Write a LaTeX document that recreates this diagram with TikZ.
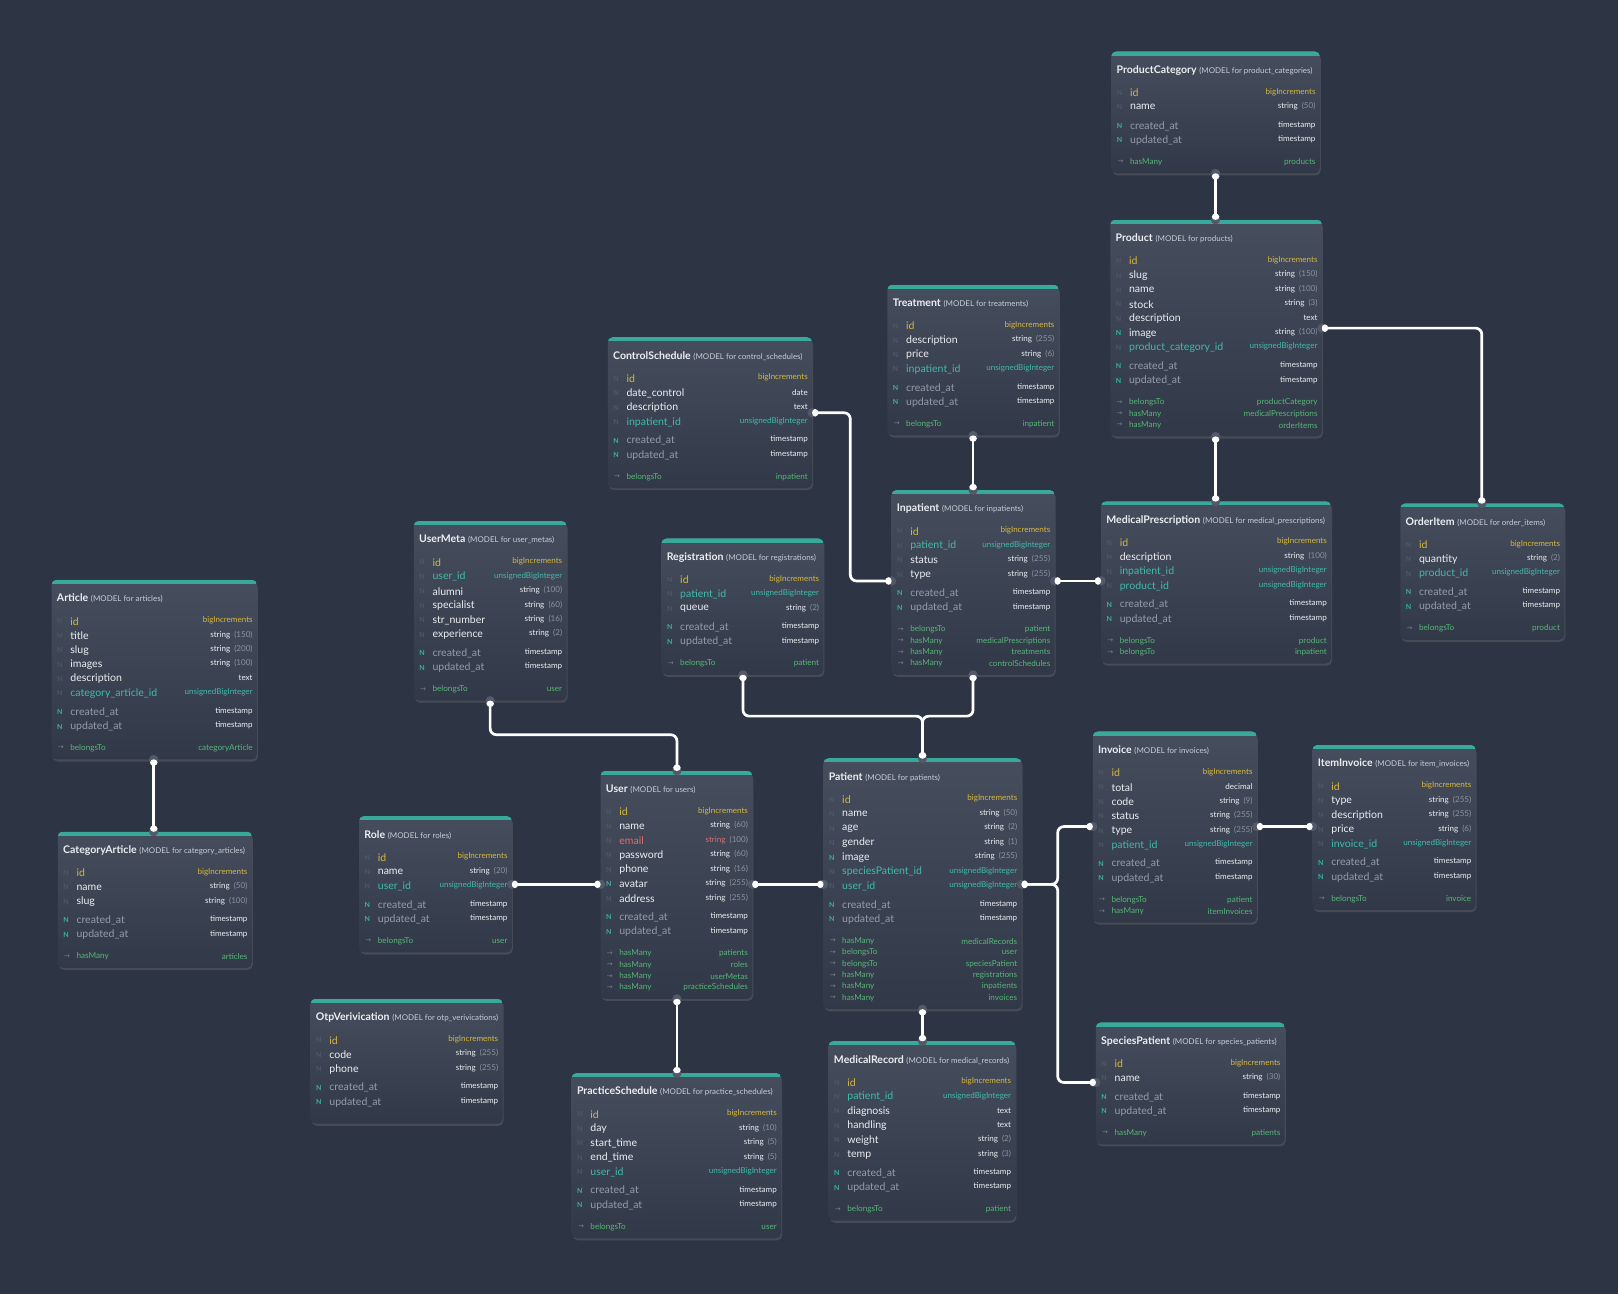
\documentclass[tikz,border=0pt]{standalone}
\usepackage{fontspec}
\setmainfont{Lato}
\newfontfamily\symfont{DejaVu Sans}
\usetikzlibrary{arrows.meta,shadows}

\definecolor{canvas}{RGB}{45,53,68}
\definecolor{boxtop}{RGB}{70,78,94}
\definecolor{boxbot}{RGB}{49,56,71}
\definecolor{barteal}{RGB}{56,170,156}
\definecolor{idyellow}{RGB}{214,184,60}
\definecolor{fkteal}{RGB}{64,186,170}
\definecolor{nteal}{RGB}{54,178,160}
\definecolor{ndim}{RGB}{80,88,104}
\definecolor{plain}{RGB}{236,238,242}
\definecolor{stampgray}{RGB}{150,156,168}
\definecolor{sizegray}{RGB}{140,146,158}
\definecolor{modelgray}{RGB}{200,205,214}
\definecolor{mailred}{RGB}{222,108,112}
\definecolor{relgreen}{RGB}{86,182,118}
\definecolor{arrowgray}{RGB}{120,126,138}
\definecolor{handlegray}{RGB}{82,90,106}

% field kinds: mark / name / type colours
\colorlet{pkmark}{ndim}\colorlet{pkname}{idyellow}\colorlet{pktype}{idyellow}
\colorlet{fkmark}{ndim}\colorlet{fkname}{fkteal}\colorlet{fktype}{fkteal}
\colorlet{fmark}{ndim}\colorlet{fname}{plain}\colorlet{ftype}{plain}
\colorlet{nfmark}{nteal}\colorlet{nfname}{plain}\colorlet{nftype}{plain}
\colorlet{tsmark}{nteal}\colorlet{tsname}{stampgray}\colorlet{tstype}{plain}
\colorlet{emmark}{ndim}\colorlet{emname}{mailred}\colorlet{emtype}{mailred}

\tikzset{
  tablebox/.style={rectangle, inner sep=0pt, rounded corners=5pt,
    top color=boxtop, bottom color=boxbot, draw=none,
    drop shadow={opacity=0.3, shadow xshift=1pt, shadow yshift=-2pt}},
  ttitle/.style={anchor=west, inner sep=0pt, text=plain, font=\fontsize{10.2}{12}\selectfont},
  nmark/.style={inner sep=0pt, font=\fontsize{6.8}{7}\selectfont\bfseries},
  fieldname/.style={anchor=west, inner sep=0pt, font=\fontsize{10.2}{12}\selectfont},
  fieldtype/.style={anchor=east, inner sep=0pt, font=\fontsize{7.8}{9}\selectfont},
  rarrow/.style={inner sep=0pt, text=arrowgray, font=\fontsize{6.8}{7}\symfont},
  rname/.style={anchor=west, inner sep=0pt, text=relgreen, font=\fontsize{7.9}{9}\selectfont},
  rtarget/.style={anchor=east, inner sep=0pt, text=relgreen, font=\fontsize{7.9}{9}\selectfont},
  handle/.style={circle, fill=handlegray, inner sep=0pt, minimum size=9pt},
  link/.style={draw=white, line width=2.6pt, rounded corners=6pt,
    arrows={Circle[length=6pt,width=7pt]-Circle[length=6pt,width=7pt]}},
}

\newcommand{\sz}[1]{ \textcolor{sizegray}{(#1)}}

% #1 name, #2 left, #3 top, #4 right, #5 bottom, #6 model, #7 table
\newcommand{\erbox}[7]{%
  \pgfmathsetmacro\tblw{#4-#2}%
  \pgfmathsetmacro\tblh{#5-#3}%
  \node[tablebox, minimum width=\tblw pt, minimum height=\tblh pt] (#1) at ({(#2+#4)/2},{(#3+#5)/2}) {};
  \begin{scope}
    \clip[rounded corners=5pt] (#1.north west) rectangle (#1.south east);
    \fill[barteal] (#1.north west) rectangle ([yshift=-4pt]#1.north east);
  \end{scope}
  \node[ttitle] (#1-title) at (#2+5,#3+18) {\textbf{#6} {\fontsize{7.7}{9}\selectfont\color{modelgray}(MODEL for #7)}};
}
% #1 name, #2 left, #3 right, #4 y, #5 kind, #6 field, #7 type
\newcommand{\erfield}[7]{%
  \node[nmark, text=#5mark] (#1-m) at (#2+8,#4+1) {N};
  \node[fieldname, text=#5name] (#1-n) at (#2+18,#4+1) {#6};
  \node[fieldtype, text=#5type] (#1-t) at (#3-4,#4) {#7};
}
\newcommand{\erstamps}[4]{%
  \erfield{#1-c}{#2}{#3}{#4}{ts}{created\_at}{timestamp}
  \erfield{#1-u}{#2}{#3}{#4+14}{ts}{updated\_at}{timestamp}
}
% #1 name, #2 left, #3 right, #4 y, #5 relation, #6 target
\newcommand{\errel}[6]{%
  \node[rarrow] (#1-a) at (#2+9,#4+1) {→};
  \node[rname] (#1-k) at (#2+18,#4+1) {#5};
  \node[rtarget] (#1-g) at (#3-4,#4+1) {#6};
}

\begin{document}
\begin{tikzpicture}[x=1pt, y=-1pt]
  \fill[canvas] (0,0) rectangle (1568,1254);
  \useasboundingbox (0,0) rectangle (1568,1254);

  % product category
  \erbox{pc}{1077}{50}{1279}{168}{ProductCategory}{product\_categories}
  \foreach \kd/\fn/\ft [count=\i from 0] in {pk/id/bigIncrements, f/name/string \sz{50}}
    {\erfield{pc-\i}{1077}{1279}{89+14*\i}{\kd}{\fn}{\ft}}
  \erstamps{pc}{1077}{1279}{121}
  \foreach \rk/\rt [count=\i from 0] in {hasMany/products}
    {\errel{pc-r\i}{1077}{1279}{156+11*\i}{\rk}{\rt}}

  % product
  \erbox{prod}{1076}{213}{1281}{423}{Product}{products}
  \foreach \kd/\fn/\ft [count=\i from 0] in {pk/id/bigIncrements, f/slug/string \sz{150},
      f/name/string \sz{100}, f/stock/string \sz{3}, f/description/text, nf/image/string \sz{100},
      fk/product\_category\_id/unsignedBigInteger}
    {\erfield{prod-\i}{1076}{1281}{252+14*\i}{\kd}{\fn}{\ft}}
  \erstamps{prod}{1076}{1281}{354}
  \foreach \rk/\rt [count=\i from 0] in {belongsTo/productCategory, hasMany/medicalPrescriptions, hasMany/orderItems}
    {\errel{prod-r\i}{1076}{1281}{389+11*\i}{\rk}{\rt}}

  % treatment
  \erbox{trt}{860}{276}{1026}{422}{Treatment}{treatments}
  \foreach \kd/\fn/\ft [count=\i from 0] in {pk/id/bigIncrements, f/description/string \sz{255},
      f/price/string \sz{6}, fk/inpatient\_id/unsignedBigInteger}
    {\erfield{trt-\i}{860}{1026}{315+14*\i}{\kd}{\fn}{\ft}}
  \erstamps{trt}{860}{1026}{375}
  \foreach \rk/\rt [count=\i from 0] in {belongsTo/inpatient}
    {\errel{trt-r\i}{860}{1026}{410+11*\i}{\rk}{\rt}}

  % control schedule
  \erbox{cs}{589}{327}{787}{473}{ControlSchedule}{control\_schedules}
  \foreach \kd/\fn/\ft [count=\i from 0] in {pk/id/bigIncrements, f/date\_control/date,
      f/description/text, fk/inpatient\_id/unsignedBigInteger}
    {\erfield{cs-\i}{589}{787}{366+14*\i}{\kd}{\fn}{\ft}}
  \erstamps{cs}{589}{787}{426}
  \foreach \rk/\rt [count=\i from 0] in {belongsTo/inpatient}
    {\errel{cs-r\i}{589}{787}{461+11*\i}{\rk}{\rt}}

  % inpatient
  \erbox{inp}{864}{475}{1022}{654}{Inpatient}{inpatients}
  \foreach \kd/\fn/\ft [count=\i from 0] in {pk/id/bigIncrements, fk/patient\_id/unsignedBigInteger,
      f/status/string \sz{255}, f/type/string \sz{255}}
    {\erfield{inp-\i}{864}{1022}{514+14*\i}{\kd}{\fn}{\ft}}
  \erstamps{inp}{864}{1022}{574}
  \foreach \rk/\rt [count=\i from 0] in {belongsTo/patient, hasMany/medicalPrescriptions,
      hasMany/treatments, hasMany/controlSchedules}
    {\errel{inp-r\i}{864}{1022}{609+11*\i}{\rk}{\rt}}

  % medical prescription
  \erbox{mp}{1067}{486}{1290}{643}{MedicalPrescription}{medical\_prescriptions}
  \foreach \kd/\fn/\ft [count=\i from 0] in {pk/id/bigIncrements, f/description/string \sz{100},
      fk/inpatient\_id/unsignedBigInteger, fk/product\_id/unsignedBigInteger}
    {\erfield{mp-\i}{1067}{1290}{525+14*\i}{\kd}{\fn}{\ft}}
  \erstamps{mp}{1067}{1290}{585}
  \foreach \rk/\rt [count=\i from 0] in {belongsTo/product, belongsTo/inpatient}
    {\errel{mp-r\i}{1067}{1290}{620+11*\i}{\rk}{\rt}}

  % order item
  \erbox{oi}{1357}{488}{1516}{620}{OrderItem}{order\_items}
  \foreach \kd/\fn/\ft [count=\i from 0] in {pk/id/bigIncrements, f/quantity/string \sz{2},
      fk/product\_id/unsignedBigInteger}
    {\erfield{oi-\i}{1357}{1516}{527+14*\i}{\kd}{\fn}{\ft}}
  \erstamps{oi}{1357}{1516}{573}
  \foreach \rk/\rt [count=\i from 0] in {belongsTo/product}
    {\errel{oi-r\i}{1357}{1516}{608+11*\i}{\rk}{\rt}}

  % article
  \erbox{art}{50}{562}{249}{736}{Article}{articles}
  \foreach \kd/\fn/\ft [count=\i from 0] in {pk/id/bigIncrements, f/title/string \sz{150},
      f/slug/string \sz{200}, f/images/string \sz{100}, f/description/text,
      fk/category\_article\_id/unsignedBigInteger}
    {\erfield{art-\i}{50}{249}{601+14*\i}{\kd}{\fn}{\ft}}
  \erstamps{art}{50}{249}{689}
  \foreach \rk/\rt [count=\i from 0] in {belongsTo/categoryArticle}
    {\errel{art-r\i}{50}{249}{724+11*\i}{\rk}{\rt}}

  % category article
  \erbox{ca}{56}{806}{244}{938}{CategoryArticle}{category\_articles}
  \foreach \kd/\fn/\ft [count=\i from 0] in {pk/id/bigIncrements, f/name/string \sz{50},
      f/slug/string \sz{100}}
    {\erfield{ca-\i}{56}{244}{845+14*\i}{\kd}{\fn}{\ft}}
  \erstamps{ca}{56}{244}{891}
  \foreach \rk/\rt [count=\i from 0] in {hasMany/articles}
    {\errel{ca-r\i}{56}{244}{926+11*\i}{\rk}{\rt}}

  % user meta
  \erbox{um}{401}{505}{549}{679}{UserMeta}{user\_metas}
  \foreach \kd/\fn/\ft [count=\i from 0] in {pk/id/bigIncrements, fk/user\_id/unsignedBigInteger,
      f/alumni/string \sz{100}, f/specialist/string \sz{60}, f/str\_number/string \sz{16},
      f/experience/string \sz{2}}
    {\erfield{um-\i}{401}{549}{544+14*\i}{\kd}{\fn}{\ft}}
  \erstamps{um}{401}{549}{632}
  \foreach \rk/\rt [count=\i from 0] in {belongsTo/user}
    {\errel{um-r\i}{401}{549}{667+11*\i}{\rk}{\rt}}

  % registration
  \erbox{reg}{641}{522}{798}{654}{Registration}{registrations}
  \foreach \kd/\fn/\ft [count=\i from 0] in {pk/id/bigIncrements, fk/patient\_id/unsignedBigInteger,
      f/queue/string \sz{2}}
    {\erfield{reg-\i}{641}{798}{561+14*\i}{\kd}{\fn}{\ft}}
  \erstamps{reg}{641}{798}{607}
  \foreach \rk/\rt [count=\i from 0] in {belongsTo/patient}
    {\errel{reg-r\i}{641}{798}{642+11*\i}{\rk}{\rt}}

  % role
  \erbox{role}{348}{791}{496}{923}{Role}{roles}
  \foreach \kd/\fn/\ft [count=\i from 0] in {pk/id/bigIncrements, f/name/string \sz{20},
      fk/user\_id/unsignedBigInteger}
    {\erfield{role-\i}{348}{496}{830+14*\i}{\kd}{\fn}{\ft}}
  \erstamps{role}{348}{496}{876}
  \foreach \rk/\rt [count=\i from 0] in {belongsTo/user}
    {\errel{role-r\i}{348}{496}{911+11*\i}{\rk}{\rt}}

  % user
  \erbox{user}{582}{747}{729}{968}{User}{users}
  \foreach \kd/\fn/\ft [count=\i from 0] in {pk/id/bigIncrements, f/name/string \sz{60},
      em/email/string \sz{100}, f/password/string \sz{60}, f/phone/string \sz{16},
      nf/avatar/string \sz{255}, f/address/string \sz{255}}
    {\erfield{user-\i}{582}{729}{786+14*\i}{\kd}{\fn}{\ft}}
  \erstamps{user}{582}{729}{888}
  \foreach \rk/\rt [count=\i from 0] in {hasMany/patients, hasMany/roles, hasMany/userMetas,
      hasMany/practiceSchedules}
    {\errel{user-r\i}{582}{729}{923+11*\i}{\rk}{\rt}}

  % patient
  \erbox{pat}{798}{735}{990}{978}{Patient}{patients}
  \foreach \kd/\fn/\ft [count=\i from 0] in {pk/id/bigIncrements, f/name/string \sz{50},
      f/age/string \sz{2}, f/gender/string \sz{1}, nf/image/string \sz{255},
      fk/speciesPatient\_id/unsignedBigInteger, fk/user\_id/unsignedBigInteger}
    {\erfield{pat-\i}{798}{990}{774+14*\i}{\kd}{\fn}{\ft}}
  \erstamps{pat}{798}{990}{876}
  \foreach \rk/\rt [count=\i from 0] in {hasMany/medicalRecords, belongsTo/user,
      belongsTo/speciesPatient, hasMany/registrations, hasMany/inpatients, hasMany/invoices}
    {\errel{pat-r\i}{798}{990}{911+11*\i}{\rk}{\rt}}

  % invoice
  \erbox{inv}{1059}{709}{1218}{894}{Invoice}{invoices}
  \foreach \kd/\fn/\ft [count=\i from 0] in {pk/id/bigIncrements, f/total/decimal,
      f/code/string \sz{9}, f/status/string \sz{255}, f/type/string \sz{255},
      fk/patient\_id/unsignedBigInteger}
    {\erfield{inv-\i}{1059}{1218}{748+14*\i}{\kd}{\fn}{\ft}}
  \erstamps{inv}{1059}{1218}{836}
  \foreach \rk/\rt [count=\i from 0] in {belongsTo/patient, hasMany/itemInvoices}
    {\errel{inv-r\i}{1059}{1218}{871+11*\i}{\rk}{\rt}}

  % item invoice
  \erbox{ii}{1272}{722}{1430}{882}{ItemInvoice}{item\_invoices}
  \foreach \kd/\fn/\ft [count=\i from 0] in {pk/id/bigIncrements, f/type/string \sz{255},
      f/description/string \sz{255}, f/price/string \sz{6}, fk/invoice\_id/unsignedBigInteger}
    {\erfield{ii-\i}{1272}{1430}{761+14*\i}{\kd}{\fn}{\ft}}
  \erstamps{ii}{1272}{1430}{835}
  \foreach \rk/\rt [count=\i from 0] in {belongsTo/invoice}
    {\errel{ii-r\i}{1272}{1430}{870+11*\i}{\rk}{\rt}}

  % species patient
  \erbox{sp}{1062}{991}{1245}{1109}{SpeciesPatient}{species\_patients}
  \foreach \kd/\fn/\ft [count=\i from 0] in {pk/id/bigIncrements, f/name/string \sz{30}}
    {\erfield{sp-\i}{1062}{1245}{1030+14*\i}{\kd}{\fn}{\ft}}
  \erstamps{sp}{1062}{1245}{1062}
  \foreach \rk/\rt [count=\i from 0] in {hasMany/patients}
    {\errel{sp-r\i}{1062}{1245}{1097+11*\i}{\rk}{\rt}}

  % otp verivication
  \erbox{otp}{301}{968}{487}{1089}{OtpVerivication}{otp\_verivications}
  \foreach \kd/\fn/\ft [count=\i from 0] in {pk/id/bigIncrements, f/code/string \sz{255},
      f/phone/string \sz{255}}
    {\erfield{otp-\i}{301}{487}{1007+14*\i}{\kd}{\fn}{\ft}}
  \erstamps{otp}{301}{487}{1053}

  % practice schedule
  \erbox{ps}{554}{1040}{757}{1200}{PracticeSchedule}{practice\_schedules}
  \foreach \kd/\fn/\ft [count=\i from 0] in {pk/id/bigIncrements, f/day/string \sz{10},
      f/start\_time/string \sz{5}, f/end\_time/string \sz{5}, fk/user\_id/unsignedBigInteger}
    {\erfield{ps-\i}{554}{757}{1079+14*\i}{\kd}{\fn}{\ft}}
  \erstamps{ps}{554}{757}{1153}
  \foreach \rk/\rt [count=\i from 0] in {belongsTo/user}
    {\errel{ps-r\i}{554}{757}{1188+11*\i}{\rk}{\rt}}

  % medical record
  \erbox{mr}{803}{1009}{984}{1183}{MedicalRecord}{medical\_records}
  \foreach \kd/\fn/\ft [count=\i from 0] in {pk/id/bigIncrements, fk/patient\_id/unsignedBigInteger,
      f/diagnosis/text, f/handling/text, f/weight/string \sz{2}, f/temp/string \sz{3}}
    {\erfield{mr-\i}{803}{984}{1048+14*\i}{\kd}{\fn}{\ft}}
  \erstamps{mr}{803}{984}{1136}
  \foreach \rk/\rt [count=\i from 0] in {belongsTo/patient}
    {\errel{mr-r\i}{803}{984}{1171+11*\i}{\rk}{\rt}}

  % handles
  \node[handle] (pc-s) at (1178,168) {};
  \node[handle] (prod-n) at (1178,213) {};
  \node[handle] (prod-s) at (1178,423) {};
  \node[handle] (prod-e) at (1281,318) {};
  \node[handle] (mp-n) at (1178,486) {};
  \node[handle] (mp-w) at (1067,563) {};
  \node[handle] (oi-n) at (1436,488) {};
  \node[handle] (trt-s) at (943,422) {};
  \node[handle] (inp-n) at (943,475) {};
  \node[handle] (inp-w) at (864,563) {};
  \node[handle] (inp-e) at (1022,563) {};
  \node[handle] (inp-s) at (943,654) {};
  \node[handle] (cs-e) at (787,400) {};
  \node[handle] (art-s) at (149,736) {};
  \node[handle] (ca-n) at (149,806) {};
  \node[handle] (um-s) at (475,679) {};
  \node[handle] (reg-s) at (720,654) {};
  \node[handle] (role-e) at (496,857) {};
  \node[handle] (user-n) at (656,747) {};
  \node[handle] (user-w) at (582,857) {};
  \node[handle] (user-e) at (729,857) {};
  \node[handle] (user-s) at (656,968) {};
  \node[handle] (ps-n) at (656,1040) {};
  \node[handle] (pat-n) at (894,735) {};
  \node[handle] (pat-w) at (798,857) {};
  \node[handle] (pat-e) at (990,857) {};
  \node[handle] (pat-s) at (894,978) {};
  \node[handle] (mr-n) at (894,1009) {};
  \node[handle] (inv-w) at (1059,801) {};
  \node[handle] (inv-e) at (1218,801) {};
  \node[handle] (ii-w) at (1272,801) {};
  \node[handle] (sp-w) at (1062,1049) {};

  % relations
  \draw[link] (pc-s.center) -- (prod-n.center);
  \draw[link] (prod-s.center) -- (mp-n.center);
  \draw[link] (prod-e.center) -| (oi-n.center);
  \draw[link] (trt-s.center) -- (inp-n.center);
  \draw[link] (cs-e.center) -- ++(37,0) |- (inp-w.center);
  \draw[link] (inp-e.center) -- (mp-w.center);
  \draw[link] (art-s.center) -- (ca-n.center);
  \draw[link] (um-s.center) -- ++(0,33) -| (user-n.center);
  \draw[link] (reg-s.center) -- ++(0,40) -| (pat-n.center);
  \draw[link] (inp-s.center) -- ++(0,40) -| (pat-n.center);
  \draw[link] (role-e.center) -- (user-w.center);
  \draw[link] (user-e.center) -- (pat-w.center);
  \draw[link] (user-s.center) -- (ps-n.center);
  \draw[link] (pat-s.center) -- (mr-n.center);
  \draw[link] (pat-e.center) -- ++(35,0) |- (inv-w.center);
  \draw[link] (pat-e.center) -- ++(35,0) |- (sp-w.center);
  \draw[link] (inv-e.center) -- (ii-w.center);
\end{tikzpicture}
\end{document}
